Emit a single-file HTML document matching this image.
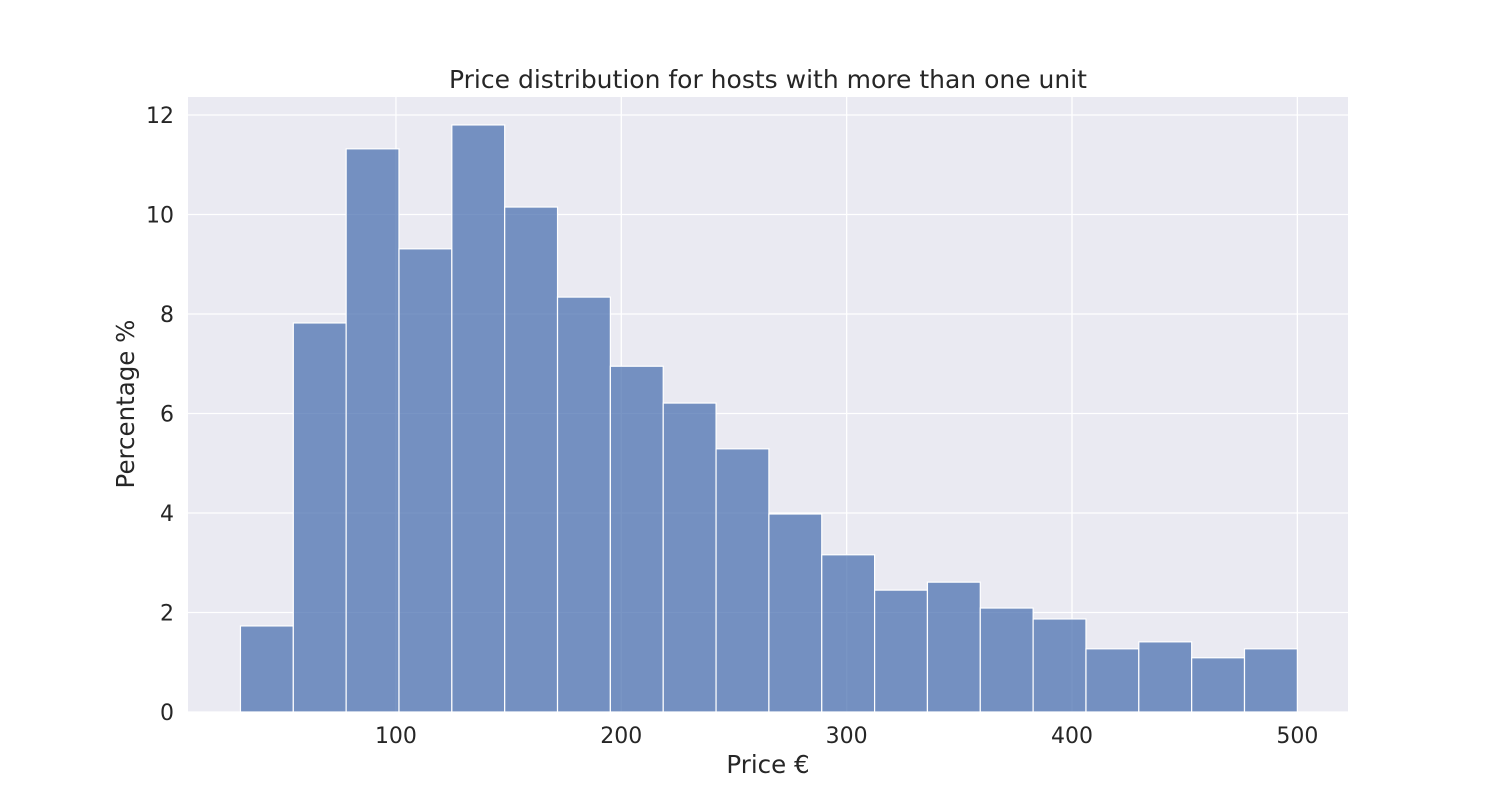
<!DOCTYPE html>
<html><head><meta charset="utf-8"><style>
body{margin:0;background:#fff;}
text{font-family:"DejaVu Sans","Liberation Sans",sans-serif;fill:#262626;}
</style></head><body>
<svg id="chart" width="1500" height="800" xmlns="http://www.w3.org/2000/svg">
<rect x="188" y="97" width="1160" height="615" fill="#eaeaf2"/>
<g id="grid"></g>
<g id="bars"></g>
<g id="ticks"></g>
<text x="768" y="88" font-size="25" text-anchor="middle">Price distribution for hosts with more than one unit</text>
<text x="768" y="773" font-size="24.5" text-anchor="middle">Price €</text>
<text transform="translate(134,404) rotate(-90)" font-size="24.5" text-anchor="middle">Percentage %</text>
</svg>
<script>
const binStart = 31;
const binWidth = 23.45;
const percentages = [1.73,7.82,11.32,9.31,11.8,10.15,8.34,6.95,6.21,5.29,3.98,3.16,2.45,2.61,2.09,1.87,1.27,1.41,1.09,1.27];
const xTicks = [100,200,300,400,500];
const yTicks = [0,2,4,6,8,10,12];
const NS='http://www.w3.org/2000/svg';
function xs(v){return 170.6+v*2.2535;}
function ys(v){return 712-v*49.75;}
function mk(tag,attrs,parent){const e=document.createElementNS(NS,tag);for(const k in attrs)e.setAttribute(k,attrs[k]);document.getElementById(parent).appendChild(e);return e;}
xTicks.forEach(t=>{
  const l=mk('line',{x1:xs(t),x2:xs(t),y1:97,y2:712,stroke:'#fff','stroke-width':1.3},'grid');
  
  
  const tx=mk('text',{x:xs(t),y:743,'font-size':22,'text-anchor':'middle'},'ticks');
  tx.textContent=t;
  
  
});
yTicks.forEach(t=>{
  const l=mk('line',{x1:188,x2:1348,y1:ys(t),y2:ys(t),stroke:'#fff','stroke-width':1.3},'grid');
  
  
  const tx=mk('text',{x:174,y:ys(t)+8,'font-size':22,'text-anchor':'end'},'ticks');
  tx.textContent=t;
  
  
});
percentages.forEach((p,i)=>{
  const x0=xs(binStart+i*binWidth), x1=xs(binStart+(i+1)*binWidth);
  const r=mk('rect',{x:x0,y:ys(p),width:x1-x0,height:ys(0)-ys(p),fill:'rgba(76,114,176,0.75)',stroke:'#fff','stroke-width':1.2},'bars');
  
  
});
</script>
</body></html>
